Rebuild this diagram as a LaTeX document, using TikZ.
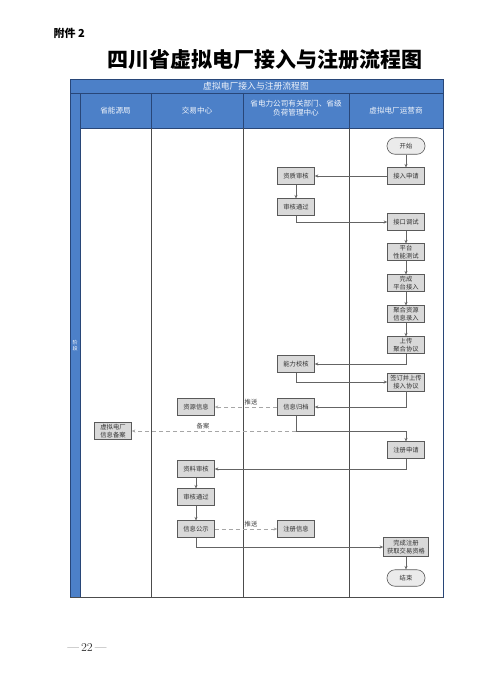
\documentclass[tikz,border=0pt]{standalone}
\usepackage{fontspec}
\setmainfont{Latin Modern Roman}
\newfontfamily\cjk{Noto Sans CJK SC}
\usetikzlibrary{arrows.meta,positioning}
\definecolor{laneblue}{RGB}{76,128,200}
\definecolor{lanedark}{RGB}{40,70,120}
\definecolor{boxfill}{RGB}{217,217,217}
\definecolor{boxline}{RGB}{90,90,90}
\definecolor{conn}{RGB}{100,100,100}
\tikzset{
  procbox/.style={rectangle,draw=boxline,fill=boxfill,line width=0.6pt,minimum width=37pt,minimum height=16.5pt,inner sep=0pt,align=center,font=\cjk\fontsize{6.3}{7.6}\selectfont,text=black!80},
  termbox/.style={procbox,rounded corners=8pt,minimum width=38pt,fill=black!8},
  flow/.style={draw=conn,line width=0.6pt,-{Stealth[length=3.5pt,width=3pt]}},
  dflow/.style={flow,dashed,dash pattern=on 4pt off 3pt,draw=black!35},
  plainline/.style={draw=conn,line width=0.6pt},
  lanetext/.style={font=\cjk\fontsize{7.6}{9}\selectfont,text=white!92!laneblue,align=center},
  lbl/.style={font=\cjk\fontsize{6.3}{7}\selectfont,text=black!75,inner sep=1pt}
}
\begin{document}
\begin{tikzpicture}[x=1pt,y=-1pt]
\useasboundingbox[fill=white] (0,0) rectangle (500,683);
% page texts
\node[anchor=west,font=\cjk\bfseries\fontsize{11}{13}\selectfont] (att) at (50,33) {附件 2};
\node[font=\cjk\bfseries\fontsize{21}{24}\selectfont] (title) at (265,60) {四川省虚拟电厂接入与注册流程图};
\node[font=\fontsize{12}{14}\selectfont,text=black!80] (pg) at (87,648) {—\,22\,—};
% swimlane frame
\fill[laneblue] (70,79) rectangle (443,128);
\fill[laneblue] (70,128) rectangle (80,597);
\draw[lanedark,line width=0.6pt] (70,79) rectangle (443,597);
\draw[lanedark,line width=0.6pt] (70,93) -- (443,93);
\draw[lanedark,line width=0.6pt] (80,93) -- (80,597);
\draw[lanedark,line width=0.6pt] (80,128) -- (443,128);
\foreach \xx in {151,243,349}{
  \draw[lanedark,line width=0.6pt] (\xx,93) -- (\xx,128);
  \draw[black!70,line width=0.8pt] (\xx,128) -- (\xx,597);
}
\draw[black!70,line width=0.8pt] (70,597) -- (443,597);
\node[font=\cjk\fontsize{8.8}{10}\selectfont,text=white!92!laneblue] (hdr) at (256,86) {虚拟电厂接入与注册流程图};
\node[lanetext] (l1) at (115.5,111) {省能源局};
\node[lanetext] (l2) at (197,111) {交易中心};
\node[lanetext] (l3) at (296,108) {省电力公司有关部门、省级\\负荷管理中心};
\node[lanetext] (l4) at (396,111) {虚拟电厂运营商};
\node[font=\cjk\fontsize{5}{6}\selectfont,text=white,align=center] (stage) at (75,346) {阶\\段};
% nodes
\node[termbox] (start) at (406,146) {开始};
\node[procbox] (apply) at (406,176) {接入申请};
\node[procbox] (qual) at (296,176) {资质审核};
\node[procbox] (pass1) at (296,207) {审核通过};
\node[procbox] (iface) at (406,222) {接口调试};
\node[procbox] (test) at (406,252) {平台\\性能测试};
\node[procbox] (done) at (406,283) {完成\\平台接入};
\node[procbox] (aggr) at (406,314) {聚合资源\\信息录入};
\node[procbox] (upload) at (406,345) {上传\\聚合协议};
\node[procbox] (check) at (296,364) {能力校核};
\node[procbox,minimum height=18pt] (sign) at (406,382) {签订并上传\\接入协议};
\node[procbox] (archive) at (296,407) {信息归档};
\node[procbox] (res) at (196,407) {资源信息};
\node[procbox] (record) at (113,431) {虚拟电厂\\信息备案};
\node[procbox] (regapply) at (406,450) {注册申请};
\node[procbox] (review) at (196,469) {资料审核};
\node[procbox] (pass2) at (196,497) {审核通过};
\node[procbox] (publish) at (196,529) {信息公示};
\node[procbox] (reginfo) at (296,529) {注册信息};
\node[procbox,minimum width=45pt,minimum height=19pt] (finish) at (406,547) {完成注册\\获取交易资格};
\node[termbox] (end) at (406,578) {结束};
\coordinate (j1) at (296,431);
% connectors
\draw[flow] (start) -- (apply);
\draw[flow] (apply) -- (qual);
\draw[flow] (qual) -- (pass1);
\draw[flow] (pass1.south) |- (iface.west);
\draw[flow] (iface) -- (test);
\draw[flow] (test) -- (done);
\draw[flow] (done) -- (aggr);
\draw[flow] (aggr) -- (upload);
\draw[flow] (upload.south) |- (check.east);
\draw[flow] (check.south) |- (sign.west);
\draw[flow] (sign.south) |- (archive.east);
\draw[dflow] (archive) -- (res);
\node[lbl] (push1) at (251,402) {推送};
\draw[plainline] (archive.south) -- (j1);
\draw[dflow] (j1) -- (record.east);
\node[lbl] (bak) at (203,426) {备案};
\draw[flow] (j1) -| (regapply.north);
\draw[flow] (regapply.south) |- (review.east);
\draw[flow] (review) -- (pass2);
\draw[flow] (pass2) -- (publish);
\draw[dflow] (publish) -- (reginfo);
\node[lbl] (push2) at (251,524) {推送};
\draw[flow] (publish.south) |- (finish.west);
\draw[flow] (finish) -- (end);
\end{tikzpicture}
\end{document}
